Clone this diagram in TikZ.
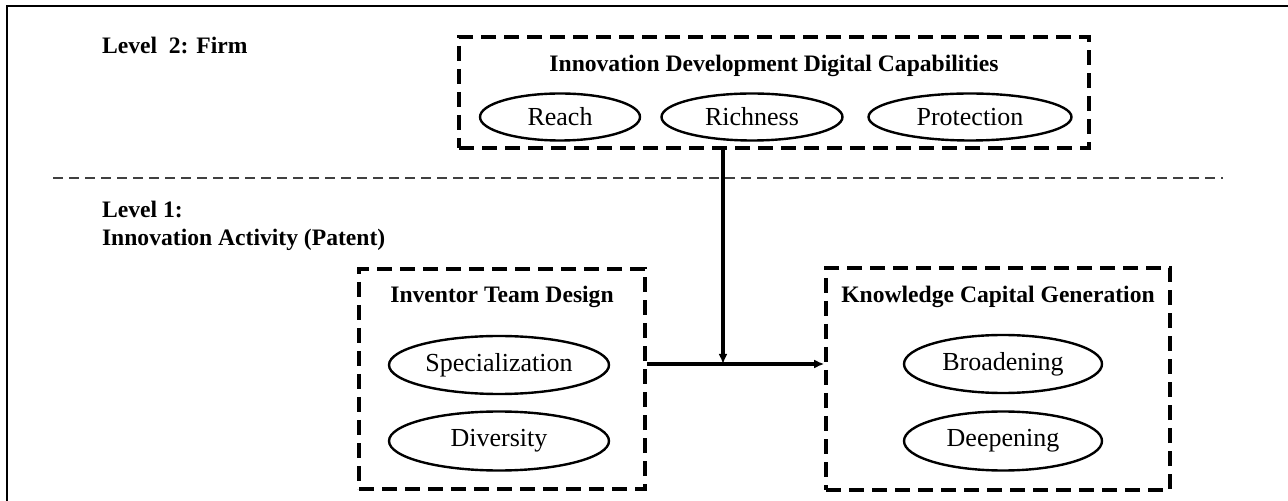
\documentclass[tikz,border=0pt]{standalone}
\usepackage{fontspec}
\setmainfont{Liberation Serif}
\usetikzlibrary{arrows.meta,positioning,shapes}

\begin{document}
\begin{tikzpicture}[x = .5pt, y = -.5pt,
  groupbox/.style = {draw, line width=1.8pt, dash pattern=on 7.5pt off 4pt, inner sep=0pt},
  construct/.style = {draw, ellipse, line width=1.2pt, inner sep=0pt, font=\fontsize{13}{15}\selectfont},
  boxtitle/.style = {font=\fontsize{11.8}{14}\selectfont\bfseries},
  link/.style = {line width=1.7pt, -{Latex[length=5pt,width=4.5pt]}}]
\useasboundingbox (0,0) rectangle (1288,501);
\draw[line width=1.3pt] (7,501) -- (7,6) -- (1288,6);
\draw[line width=.9pt, black!75, dash pattern=on 5pt off 3pt] (53,178) -- (1223,178);

\node[boxtitle, anchor=west] (L2) at (95,45) {Level~ 2: Firm};
\node[boxtitle, anchor=west, align=left] (L1) at (95,226) {Level 1:\\Innovation Activity (Patent)};

% level 2
\node[groupbox, minimum width=315pt, minimum height=55.5pt] (IDDC) at (774,92.5) {};
\node[boxtitle] (IDDCt) at (774,66) {Innovation Development Digital Capabilities};
\node[construct, minimum width=80pt, minimum height=23.5pt] (reach) at (560,117) {Reach};
\node[construct, minimum width=90.5pt, minimum height=23.5pt] (rich) at (752,117) {Richness};
\node[construct, minimum width=101.5pt, minimum height=23.5pt] (prot) at (970,117) {Protection};

% level 1
\node[groupbox, minimum width=143pt, minimum height=110pt] (ITD) at (502,379) {};
\node[boxtitle] (ITDt) at (502,297) {Inventor Team Design};
\node[construct, minimum width=110pt, minimum height=29pt] (spec) at (499,365) {Specialization};
\node[construct, minimum width=110pt, minimum height=29.5pt] (div) at (499,441) {Diversity};

\node[groupbox, minimum width=172pt, minimum height=111pt] (KCG) at (998,379) {};
\node[boxtitle] (KCGt) at (998,297) {Knowledge Capital Generation};
\node[construct, minimum width=99pt, minimum height=29pt] (broad) at (1003,364) {Broadening};
\node[construct, minimum width=99pt, minimum height=29.5pt] (deep) at (1003,441) {Deepening};

\coordinate (join) at (723,364);
\draw[link] (IDDC.south -| join) -- (join);
\draw[link] (ITD.east |- join) -- (KCG.west |- join);

\end{tikzpicture}
\end{document}
